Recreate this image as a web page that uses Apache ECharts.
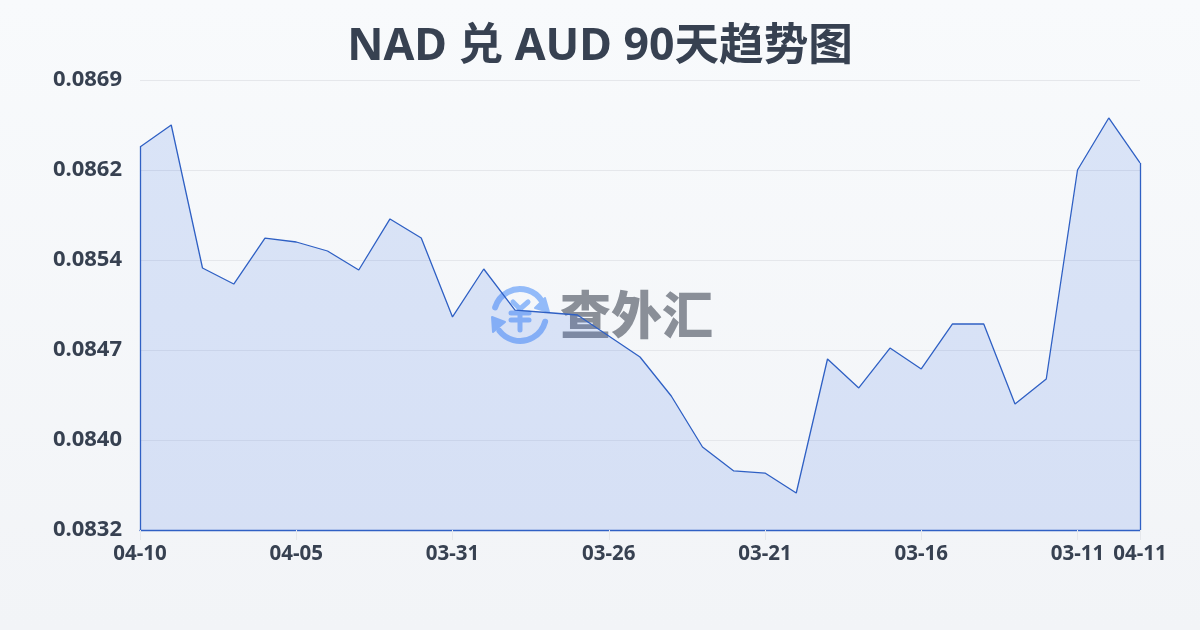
<!DOCTYPE html>
<html>
<head>
<meta charset="utf-8">
<style>
  html, body { margin: 0; padding: 0; }
  #chart { width: 1200px; height: 630px; }
</style>
<script src="https://cdn.jsdelivr.net/npm/echarts@6/dist/echarts.min.js"></script>
</head>
<body>
<div id="chart"></div>
<script>
// NAD 兑 AUD 90天趋势图
const dates = ['04-10','04-09','04-08','04-07','04-06','04-05','04-04','04-03','04-02','04-01',
  '03-31','03-30','03-29','03-28','03-27','03-26','03-25','03-24','03-23','03-22',
  '03-21','03-20','03-19','03-18','03-17','03-16','03-15','03-14','03-13','03-12',
  '03-11','03-10','04-11'];
const rates = [0.086357,0.086535,0.085375,0.085245,0.085618,0.085586,0.085513,0.085359,0.085773,0.085618,
  0.084978,0.085367,0.085034,0.085014,0.084994,0.084824,0.084653,0.084337,0.083923,0.083729,
  0.083712,0.08355,0.084637,0.084402,0.084726,0.084556,0.084921,0.084921,0.084272,0.084475,
  0.08617,0.086592,0.086227];
const yTicks = [0.08325,0.08398,0.08471,0.08544,0.08617,0.0869];
const yTickLabels = ['0.0832','0.0840','0.0847','0.0854','0.0862','0.0869'];
const xLabelIndexes = [0,5,10,15,20,25,30,32];

const FONT = '"Noto Sans","Noto Sans CJK SC",sans-serif';
const LINE = '#2f60c4';
const LOGO = '#93bbf9';
const showLabel = (i) => xLabelIndexes.includes(i);

// 水印图标的一笔
const stroke = (x1, y1, x2, y2) => ({
  type: 'line',
  shape: { x1, y1, x2, y2 },
  style: { stroke: LOGO, lineWidth: 5, lineCap: 'round' }
});
const arc = (startDeg, endDeg) => ({
  type: 'arc',
  shape: { cx: 520, cy: 315, r: 26, startAngle: startDeg * Math.PI / 180, endAngle: endDeg * Math.PI / 180 },
  style: { stroke: LOGO, lineWidth: 6, lineCap: 'round', fill: null }
});

const chart = echarts.init(document.getElementById('chart'));
chart.setOption({
  backgroundColor: new echarts.graphic.LinearGradient(0, 0, 0, 1, [
    { offset: 0, color: '#f8fafc' },
    { offset: 1, color: '#f2f4f7' }
  ]),
  animation: false,
  title: {
    text: 'NAD 兑 AUD 90天趋势图',
    left: 'center',
    top: 20,
    textStyle: { fontFamily: FONT, fontSize: 44.6, fontWeight: 'bold', color: '#374151' }
  },
  grid: { left: 140, right: 60, top: 80, bottom: 100 },
  xAxis: {
    type: 'category',
    data: dates,
    boundaryGap: false,
    axisLine: { lineStyle: { color: LINE, width: 1.3 } },
    axisTick: { show: true, length: 10, interval: showLabel, alignWithLabel: true, lineStyle: { color: '#e5e7eb' } },
    axisLabel: {
      interval: showLabel, margin: 14, hideOverlap: false,
      fontFamily: FONT, fontSize: 20.5, fontWeight: 'bold', color: '#374151'
    }
  },
  yAxis: {
    type: 'value',
    min: yTicks[0],
    max: yTicks[yTicks.length - 1],
    axisLine: { show: false },
    axisTick: { show: false, customValues: yTicks },
    splitLine: { show: true, lineStyle: { color: '#e5e7eb', width: 1 } },
    axisLabel: {
      customValues: yTicks,
      margin: 18,
      fontFamily: FONT, fontSize: 22, fontWeight: 'bold', color: '#374151',
      formatter: (v) => yTickLabels[yTicks.indexOf(v)]
    }
  },
  graphic: [{
    type: 'group', z: 1, silent: true,
    children: [
      arc(197, 328),
      arc(15, 142),
      { type: 'polygon', shape: { points: [[545, 298], [549, 312], [535, 308]] }, style: { fill: LOGO, stroke: LOGO, lineWidth: 2, lineJoin: 'round' } },
      { type: 'polygon', shape: { points: [[492, 317], [493, 332], [505, 322]] }, style: { fill: LOGO, stroke: LOGO, lineWidth: 2, lineJoin: 'round' } },
      stroke(513, 302, 520, 309),
      stroke(528, 302, 520, 309),
      stroke(511, 313, 529, 313),
      stroke(511, 320, 529, 320),
      stroke(520, 309, 520, 330),
      { type: 'text', style: { text: '查外汇', x: 560, y: 315, align: 'left', verticalAlign: 'middle', fontFamily: '"Noto Sans CJK SC"', fontSize: 51, fontWeight: 900, fill: '#8a8f98' } }
    ]
  }],
  series: [{
    type: 'line',
    data: rates,
    symbol: 'none',
    smooth: false,
    lineStyle: { color: LINE, width: 1.3 },
    areaStyle: { color: 'rgba(50,105,225,0.145)', opacity: 1 },
    markLine: {
      silent: true,
      symbol: 'none',
      label: { show: false },
      lineStyle: { color: LINE, width: 1.3, type: 'solid' },
      data: [
        [{ xAxis: dates[0], yAxis: yTicks[0] }, { xAxis: dates[0], yAxis: rates[0] }],
        [{ xAxis: dates[32], yAxis: yTicks[0] }, { xAxis: dates[32], yAxis: rates[32] }]
      ]
    }
  }]
});
</script>
</body>
</html>
